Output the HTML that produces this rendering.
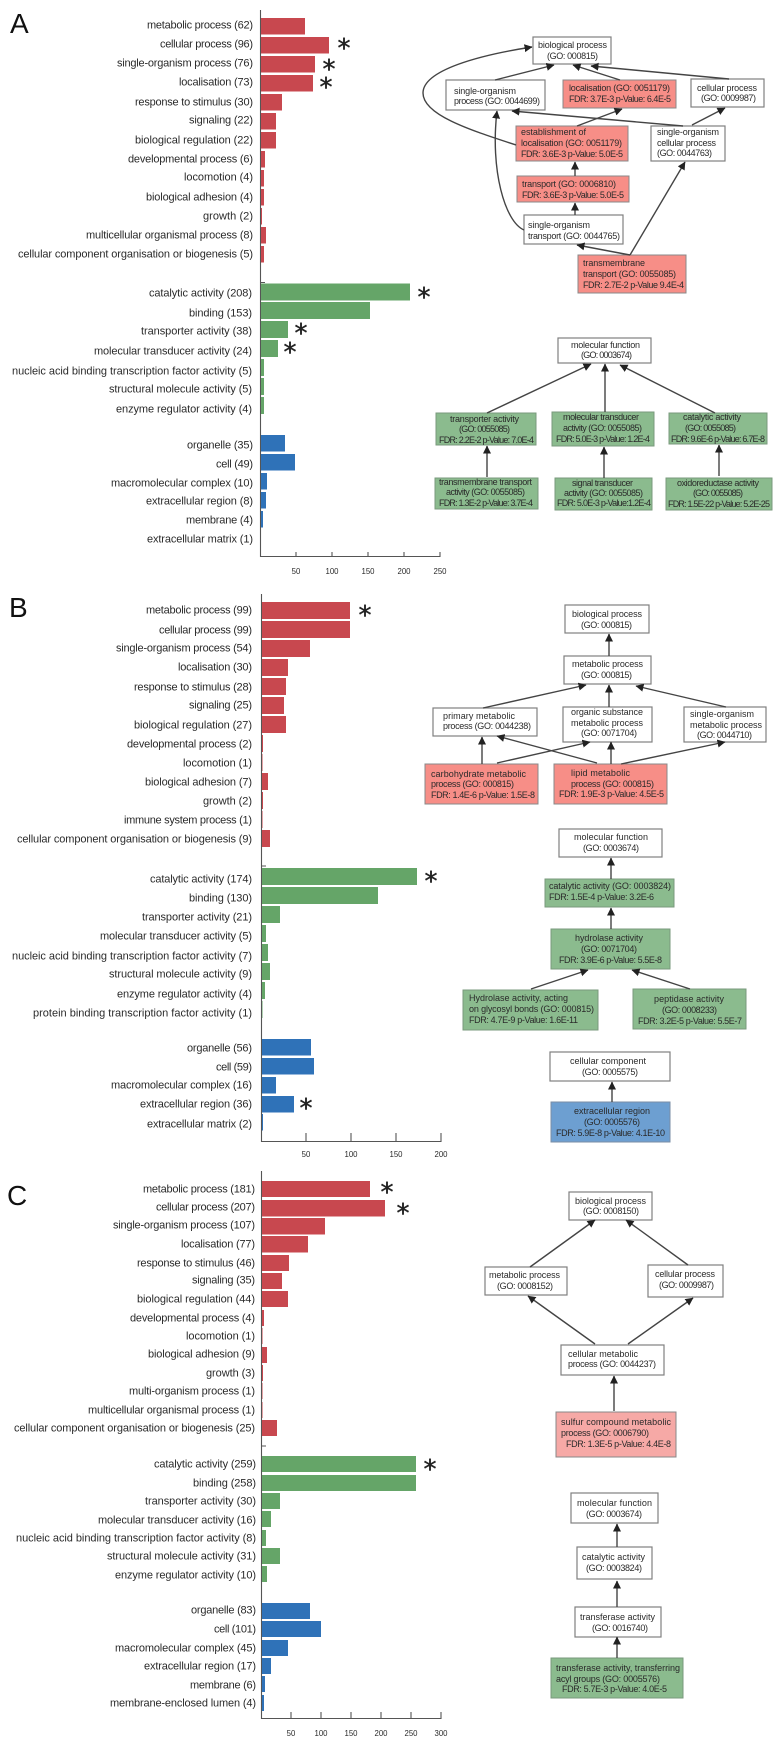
<!DOCTYPE html>
<html><head><meta charset="utf-8"><style>
html,body{margin:0;padding:0;background:#fff}
svg{display:block;filter:blur(.35px)}
text{font-family:"Liberation Sans",sans-serif;fill:#2a2a2a}
.l text{font-size:11px}
.n text{font-size:9px}
.t text{font-size:7.8px;text-anchor:middle}
.s text{font-family:"DejaVu Sans",sans-serif;font-size:26px;text-anchor:middle;fill:#222;stroke:#222;stroke-width:.4}
.b{font-size:28px;fill:#111}
.nw{fill:#fff;stroke:#808080;stroke-width:1.2}
.nr{fill:#f78e87;stroke:#888;stroke-width:1}
.ng{fill:#8bbb8e;stroke:#7a9a7c;stroke-width:1}
.nb{fill:#6d9fd1;stroke:#7a8ea5;stroke-width:1}
.np{fill:#f6a9a6;stroke:#888;stroke-width:1}
.e path{fill:none;stroke:#444;stroke-width:1.4;marker-end:url(#a)}
</style></head><body>
<svg width="778" height="1748" viewBox="0 0 778 1748" xmlns="http://www.w3.org/2000/svg">
<defs><marker id="a" markerUnits="userSpaceOnUse" markerWidth="9" markerHeight="9" refX="7.5" refY="4" orient="auto"><path d="M0 0L8 4L0 8z" fill="#222"/></marker></defs>
<rect width="778" height="1748" fill="#fff"/>

<text class="b" x="10" y="33">A</text>
<text class="b" x="9" y="617">B</text>
<text class="b" x="7" y="1205">C</text>

<!-- axes -->
<path d="M260.5 10V556.5H440V552M296 556V552M332 556V552M368 556V552M404 556V552M261 282.5h4M261.5 594V1141.5H441V1133M306 1141V1133M351 1141V1133M396 1141V1133M262 866h4M261.5 1171V1718.5H441V1712M291 1718V1712M321 1718V1712M351 1718V1712M381 1718V1712M411 1718V1712M262 1446h4" fill="none" stroke="#555" stroke-width="1.1"/>

<!-- red bars -->
<path fill="#c8484f" d="M261 18H305V34.5H261zM261 37H329V53.5H261zM261 56H315V72.5H261zM261 75H313V91.5H261zM261 94H282V110.5H261zM261 113H276V129.5H261zM261 132H276V148.5H261zM261 151H265V167.5H261zM261 170H264V186.5H261zM261 189H264V205.5H261zM261 208H262V224.5H261zM261 227H266V243.5H261zM261 246H264V262.5H261z
M262 602H350V619H262zM262 621H350V638H262zM262 640H310V657H262zM262 659H288V676H262zM262 678H286V695H262zM262 697H284V714H262zM262 716H286V733H262zM262 735H263V752H262zM262 754H262.5V771H262zM262 773H268V790H262zM262 792H263V809H262zM262 811H262.5V828H262zM262 830H270V847H262z
M262 1181H370V1197H262zM262 1200H385V1216.5H262zM262 1218H325V1234.5H262zM262 1236H308V1252.5H262zM262 1255H289V1271H262zM262 1273H282V1289H262zM262 1291H288V1307H262zM262 1310H264V1326H262zM262 1328H262.5V1344H262zM262 1347H267V1363H262zM262 1365H263V1381H262zM262 1383H262.5V1399H262zM262 1402H262.5V1418H262zM262 1420H277V1436H262z"/>
<!-- green bars -->
<path fill="#65a568" d="M261 283.5H410V300.5H261zM261 302H370V319H261zM261 321H288V338H261zM261 340H278V357H261zM261 359H264V376H261zM261 378H264V395H261zM261 397H264V414H261z
M262 868H417V885H262zM262 887H378V904H262zM262 906H280V923H262zM262 925H266V942H262zM262 944H268V961H262zM262 963H270V980H262zM262 982H265V999H262zM262 1001H262.5V1018H262z
M262 1456H416V1472H262zM262 1475H416V1491H262zM262 1493H280V1509H262zM262 1511H271V1527H262zM262 1530H266V1546H262zM262 1548H280V1564H262zM262 1566H267V1582H262z"/>
<!-- blue bars -->
<path fill="#2f72b8" d="M261 435H285V451.5H261zM261 454H295V470.5H261zM261 473H267V489.5H261zM261 492H266V508.5H261zM261 511H263V527.5H261z
M262 1039H311V1055.5H262zM262 1058H314V1074.5H262zM262 1077H276V1093.5H262zM262 1096H294V1112.5H262zM262 1114H263V1130.5H262z
M262 1603H310V1619H262zM262 1621H321V1637H262zM262 1640H288V1656H262zM262 1658H271V1674H262zM262 1676H265V1692H262zM262 1695H264V1711H262z"/>

<!-- labels -->
<g class="l">
<text x="147" y="28.5" textLength="106">metabolic process (62)</text>
<text x="160" y="47.5" textLength="93">cellular process (96)</text>
<text x="117" y="66.5" textLength="136">single-organism process (76)</text>
<text x="179" y="85.5" textLength="74">localisation (73)</text>
<text x="135" y="105.5" textLength="118">response to stimulus (30)</text>
<text x="189" y="123.5" textLength="64">signaling (22)</text>
<text x="135" y="143.5" textLength="118">biological regulation (22)</text>
<text x="128" y="162.5" textLength="125">developmental process (6)</text>
<text x="184" y="180.5" textLength="69">locomotion (4)</text>
<text x="146" y="200.5" textLength="107">biological adhesion (4)</text>
<text x="203" y="219.5" textLength="50">growth (2)</text>
<text x="86" y="238.5" textLength="167">multicellular organismal process (8)</text>
<text x="18" y="257.5" textLength="235">cellular component organisation or biogenesis (5)</text>
<text x="149" y="296.5" textLength="103">catalytic activity (208)</text>
<text x="189" y="316.5" textLength="63">binding (153)</text>
<text x="141" y="334.5" textLength="111">transporter activity (38)</text>
<text x="94" y="354.5" textLength="158">molecular transducer activity (24)</text>
<text x="12" y="374.5" textLength="240">nucleic acid binding transcription factor activity (5)</text>
<text x="109" y="392.5" textLength="143">structural molecule activity (5)</text>
<text x="116" y="412.5" textLength="136">enzyme regulator activity (4)</text>
<text x="187" y="448.5" textLength="66">organelle (35)</text>
<text x="216" y="467.5" textLength="37">cell (49)</text>
<text x="111" y="486.5" textLength="142">macromolecular complex (10)</text>
<text x="146" y="504.5" textLength="107">extracellular region (8)</text>
<text x="186" y="523.5" textLength="67">membrane (4)</text>
<text x="147" y="542.5" textLength="106">extracellular matrix (1)</text>

<text x="146" y="613.5" textLength="106">metabolic process (99)</text>
<text x="159" y="633.5" textLength="93">cellular process (99)</text>
<text x="116" y="651.5" textLength="136">single-organism process (54)</text>
<text x="178" y="670.5" textLength="74">localisation (30)</text>
<text x="134" y="690.5" textLength="118">response to stimulus (28)</text>
<text x="189" y="708.5" textLength="63">signaling (25)</text>
<text x="134" y="728.5" textLength="118">biological regulation (27)</text>
<text x="127" y="747.5" textLength="125">developmental process (2)</text>
<text x="183" y="766.5" textLength="69">locomotion (1)</text>
<text x="145" y="785.5" textLength="107">biological adhesion (7)</text>
<text x="203" y="804.5" textLength="49">growth (2)</text>
<text x="124" y="823.5" textLength="128">immune system process (1)</text>
<text x="17" y="842.5" textLength="235">cellular component organisation or biogenesis (9)</text>
<text x="150" y="882.5" textLength="102">catalytic activity (174)</text>
<text x="189" y="901.5" textLength="63">binding (130)</text>
<text x="142" y="920.5" textLength="110">transporter activity (21)</text>
<text x="100" y="939.5" textLength="152">molecular transducer activity (5)</text>
<text x="12" y="959.5" textLength="240">nucleic acid binding transcription factor activity (7)</text>
<text x="109" y="977.5" textLength="143">structural molecule activity (9)</text>
<text x="117" y="997.5" textLength="135">enzyme regulator activity (4)</text>
<text x="33" y="1016.5" textLength="219">protein binding transcription factor activity (1)</text>
<text x="187" y="1051.5" textLength="65">organelle (56)</text>
<text x="216" y="1070.5" textLength="36">cell (59)</text>
<text x="111" y="1088.5" textLength="141">macromolecular complex (16)</text>
<text x="140" y="1107.5" textLength="112">extracellular region (36)</text>
<text x="147" y="1127.5" textLength="105">extracellular matrix (2)</text>

<text x="143" y="1192.5" textLength="112">metabolic process (181)</text>
<text x="156" y="1210.5" textLength="99">cellular process (207)</text>
<text x="113" y="1228.5" textLength="142">single-organism process (107)</text>
<text x="181" y="1247.5" textLength="74">localisation (77)</text>
<text x="137" y="1266.5" textLength="118">response to stimulus (46)</text>
<text x="192" y="1283.5" textLength="63">signaling (35)</text>
<text x="137" y="1302.5" textLength="118">biological regulation (44)</text>
<text x="130" y="1321.5" textLength="125">developmental process (4)</text>
<text x="186" y="1339.5" textLength="69">locomotion (1)</text>
<text x="148" y="1357.5" textLength="107">biological adhesion (9)</text>
<text x="206" y="1376.5" textLength="49">growth (3)</text>
<text x="129" y="1394.5" textLength="126">multi-organism process (1)</text>
<text x="88" y="1413.5" textLength="167">multicellular organismal process (1)</text>
<text x="14" y="1431.5" textLength="241">cellular component organisation or biogenesis (25)</text>
<text x="154" y="1467.5" textLength="102">catalytic activity (259)</text>
<text x="193" y="1486.5" textLength="63">binding (258)</text>
<text x="145" y="1504.5" textLength="111">transporter activity (30)</text>
<text x="98" y="1523.5" textLength="158">molecular transducer activity (16)</text>
<text x="16" y="1541.5" textLength="240">nucleic acid binding transcription factor activity (8)</text>
<text x="107" y="1559.5" textLength="149">structural molecule activity (31)</text>
<text x="115" y="1578.5" textLength="141">enzyme regulator activity (10)</text>
<text x="191" y="1613.5" textLength="65">organelle (83)</text>
<text x="214" y="1632.5" textLength="42">cell (101)</text>
<text x="115" y="1651.5" textLength="141">macromolecular complex (45)</text>
<text x="144" y="1669.5" textLength="112">extracellular region (17)</text>
<text x="190" y="1688.5" textLength="66">membrane (6)</text>
<text x="110" y="1706.5" textLength="146">membrane-enclosed lumen (4)</text>
</g>

<!-- tick labels -->
<g class="t">
<text x="296" y="574">50</text><text x="332" y="574">100</text><text x="368" y="574">150</text><text x="404" y="574">200</text><text x="440" y="574">250</text>
<text x="306" y="1157">50</text><text x="351" y="1157">100</text><text x="396" y="1157">150</text><text x="441" y="1157">200</text>
<text x="291" y="1736">50</text><text x="321" y="1736">100</text><text x="351" y="1736">150</text><text x="381" y="1736">200</text><text x="411" y="1736">250</text><text x="441" y="1736">300</text>
</g>

<!-- asterisks -->
<g class="s">
<text x="344" y="57">*</text><text x="329" y="78">*</text><text x="326" y="96">*</text><text x="424" y="306">*</text><text x="301" y="342">*</text><text x="290" y="361">*</text>
<text x="365" y="624">*</text><text x="431" y="890">*</text><text x="306" y="1117">*</text>
<text x="387" y="1201">*</text><text x="403" y="1222">*</text><text x="430" y="1478">*</text>
</g>

<!-- node boxes -->
<rect class="nw" x="533" y="37" width="78" height="27"/>
<rect class="nw" x="446" y="80" width="99" height="30"/>
<rect class="nr" x="563" y="80" width="113" height="28"/>
<rect class="nw" x="691" y="79" width="73" height="28"/>
<rect class="nr" x="516" y="126" width="112" height="35"/>
<rect class="nw" x="651" y="126" width="74" height="35"/>
<rect class="nr" x="517" y="176" width="112" height="26"/>
<rect class="nw" x="524" y="215" width="99" height="29"/>
<rect class="nr" x="578" y="255" width="108" height="38"/>

<rect class="nw" x="558" y="338" width="93" height="25"/>
<rect class="ng" x="436" y="413" width="100" height="32"/>
<rect class="ng" x="552" y="412" width="102" height="34"/>
<rect class="ng" x="669" y="413" width="98" height="31"/>
<rect class="ng" x="435" y="478" width="103" height="31"/>
<rect class="ng" x="555" y="478" width="97" height="32"/>
<rect class="ng" x="666" y="478" width="106" height="32"/>

<rect class="nw" x="565" y="605" width="84" height="28"/>
<rect class="nw" x="564" y="656" width="87" height="28"/>
<rect class="nw" x="433" y="708" width="104" height="28"/>
<rect class="nw" x="563" y="707" width="89" height="35"/>
<rect class="nw" x="684" y="707" width="82" height="35"/>
<rect class="nr" x="425" y="764" width="113" height="40"/>
<rect class="nr" x="554" y="764" width="113" height="40"/>
<rect class="nw" x="559" y="829" width="103" height="28"/>
<rect class="ng" x="545" y="879" width="129" height="28"/>
<rect class="ng" x="551" y="929" width="119" height="40"/>
<rect class="ng" x="463" y="990" width="135" height="40"/>
<rect class="ng" x="633" y="989" width="113" height="40"/>
<rect class="nw" x="550" y="1052" width="120" height="29"/>
<rect class="nb" x="551" y="1102" width="119" height="40"/>

<rect class="nw" x="569" y="1192" width="83" height="28"/>
<rect class="nw" x="485" y="1267" width="82" height="28"/>
<rect class="nw" x="648" y="1265" width="75" height="32"/>
<rect class="nw" x="561" y="1345" width="103" height="30"/>
<rect class="np" x="556" y="1412" width="120" height="45"/>
<rect class="nw" x="571" y="1493" width="87" height="30"/>
<rect class="nw" x="577" y="1547" width="75" height="32"/>
<rect class="nw" x="575" y="1607" width="86" height="30"/>
<rect class="ng" x="551" y="1658" width="132" height="40"/>

<!-- edges -->
<g class="e">
<path d="M495 80L554 65"/>
<path d="M620 80L573 65"/>
<path d="M729 79L591 66"/>
<path d="M516 145C470 130 423 115 423 93C423 70 480 55 532 47"/>
<path d="M577 126L622 109"/>
<path d="M683 126L512 111"/>
<path d="M524 230C505 222 490 170 497 111"/>
<path d="M692 125L725 108"/>
<path d="M575 176V162"/>
<path d="M575 215V203"/>
<path d="M630 255L577 245"/>
<path d="M630 255L685 162"/>
<path d="M487 413L591 364"/>
<path d="M605 412V364"/>
<path d="M715 413L620 365"/>
<path d="M487 477V446"/>
<path d="M604 478V447"/>
<path d="M719 476V445"/>
<path d="M609 656V634"/>
<path d="M483 708L586 685"/>
<path d="M609 707V685"/>
<path d="M726 707L636 686"/>
<path d="M482 764V737"/>
<path d="M497 763L590 742"/>
<path d="M597 763L497 736"/>
<path d="M611 764V742"/>
<path d="M621 764L725 742"/>
<path d="M611 879V858"/>
<path d="M611 929V908"/>
<path d="M531 989L588 970"/>
<path d="M690 989L632 970"/>
<path d="M612 1102V1082"/>
<path d="M530 1267L595 1220"/>
<path d="M688 1265L626 1220"/>
<path d="M595 1344L528 1296"/>
<path d="M628 1344L693 1298"/>
<path d="M614 1411V1376"/>
<path d="M617 1547V1524"/>
<path d="M617 1607V1581"/>
<path d="M617 1658V1637"/>
</g>

<!-- node text -->
<g class="n">
<text x="538" y="48" textLength="69">biological process</text>
<text x="547" y="59" textLength="51">(GO: 000815)</text>
<text x="454" y="94" textLength="62">single-organism</text>
<text x="454" y="104" textLength="86">process (GO: 0044699)</text>
<text x="569" y="91" textLength="101">localisation (GO: 0051179)</text>
<text x="569" y="102" textLength="102">FDR: 3.7E-3 p-Value: 6.4E-5</text>
<text x="697" y="91" textLength="60">cellular process</text>
<text x="701" y="101" textLength="55">(GO: 0009987)</text>
<text x="521" y="135" textLength="65">establishment of</text>
<text x="521" y="146" textLength="101">localisation (GO: 0051179)</text>
<text x="521" y="157" textLength="102">FDR: 3.6E-3 p-Value: 5.0E-5</text>
<text x="657" y="135" textLength="62">single-organism</text>
<text x="657" y="146" textLength="59">cellular process</text>
<text x="657" y="156" textLength="55">(GO: 0044763)</text>
<text x="522" y="187" textLength="94">transport (GO: 0006810)</text>
<text x="522" y="198" textLength="102">FDR: 3.6E-3 p-Value: 5.0E-5</text>
<text x="528" y="228" textLength="62">single-organism</text>
<text x="528" y="239" textLength="92">transport (GO: 0044765)</text>
<text x="583" y="266" textLength="62">transmembrane</text>
<text x="583" y="277" textLength="93">transport (GO: 0055085)</text>
<text x="583" y="288" textLength="101">FDR: 2.7E-2 p-Value 9.4E-4</text>

<text x="571" y="348" textLength="69">molecular function</text>
<text x="581" y="358" textLength="51">(GO: 0003674)</text>
<text x="450" y="422" textLength="69">transporter activity</text>
<text x="459" y="432" textLength="51">(GO: 0055085)</text>
<text x="439" y="443" textLength="95">FDR: 2.2E-2 p-Value: 7.0E-4</text>
<text x="563" y="420" textLength="76">molecular transducer</text>
<text x="563" y="431" textLength="79">activity (GO: 0055085)</text>
<text x="556" y="442" textLength="94">FDR: 5.0E-3 p-Value: 1.2E-4</text>
<text x="683" y="420" textLength="58">catalytic activity</text>
<text x="685" y="431" textLength="51">(GO: 0055085)</text>
<text x="671" y="442" textLength="94">FDR: 9.6E-6 p-Value: 6.7E-8</text>
<text x="439" y="485" textLength="93">transmembrane transport</text>
<text x="446" y="495" textLength="79">activity (GO: 0055085)</text>
<text x="439" y="506" textLength="94">FDR: 1.3E-2 p-Value: 3.7E-4</text>
<text x="572" y="486" textLength="61">signal transducer</text>
<text x="564" y="496" textLength="79">activity (GO: 0055085)</text>
<text x="557" y="506" textLength="94">FDR: 5.0E-3 p-Value:1.2E-4</text>
<text x="677" y="486" textLength="82">oxidoreductase activity</text>
<text x="693" y="496" textLength="50">(GO: 0055085)</text>
<text x="668" y="507" textLength="102">FDR: 1.5E-22 p-Value: 5.2E-25</text>

<text x="572" y="617" textLength="70">biological process</text>
<text x="581" y="628" textLength="51">(GO: 000815)</text>
<text x="572" y="667" textLength="71">metabolic process</text>
<text x="581" y="678" textLength="51">(GO: 000815)</text>
<text x="443" y="719" textLength="72">primary metabolic</text>
<text x="443" y="729" textLength="88">process (GO: 0044238)</text>
<text x="571" y="715" textLength="72">organic substance</text>
<text x="571" y="726" textLength="72">metabolic process</text>
<text x="581" y="736" textLength="56">(GO: 0071704)</text>
<text x="690" y="717" textLength="64">single-organism</text>
<text x="690" y="728" textLength="72">metabolic process</text>
<text x="697" y="738" textLength="55">(GO: 0044710)</text>
<text x="431" y="777" textLength="95">carbohydrate metabolic</text>
<text x="431" y="787" textLength="83">process (GO: 000815)</text>
<text x="431" y="798" textLength="104">FDR: 1.4E-6 p-Value: 1.5E-8</text>
<text x="571" y="776" textLength="59">lipid metabolic</text>
<text x="571" y="787" textLength="83">process (GO: 000815)</text>
<text x="559" y="797" textLength="105">FDR: 1.9E-3 p-Value: 4.5E-5</text>
<text x="574" y="840" textLength="74">molecular function</text>
<text x="583" y="851" textLength="56">(GO: 0003674)</text>
<text x="549" y="889" textLength="122">catalytic activity (GO: 0003824)</text>
<text x="549" y="900" textLength="105">FDR: 1.5E-4 p-Value: 3.2E-6</text>
<text x="575" y="941" textLength="68">hydrolase activity</text>
<text x="581" y="952" textLength="56">(GO: 0071704)</text>
<text x="559" y="963" textLength="103">FDR: 3.9E-6 p-Value: 5.5E-8</text>
<text x="469" y="1001" textLength="99">Hydrolase activity, acting</text>
<text x="469" y="1012" textLength="125">on glycosyl bonds (GO: 000815)</text>
<text x="469" y="1023" textLength="109">FDR: 4.7E-9 p-Value: 1.6E-11</text>
<text x="654" y="1002" textLength="70">peptidase activity</text>
<text x="662" y="1013" textLength="55">(GO: 0008233)</text>
<text x="638" y="1024" textLength="104">FDR: 3.2E-5 p-Value: 5.5E-7</text>
<text x="570" y="1064" textLength="76">cellular component</text>
<text x="582" y="1075" textLength="56">(GO: 0005575)</text>
<text x="574" y="1114" textLength="76">extracellular region</text>
<text x="584" y="1125" textLength="56">(GO: 0005576)</text>
<text x="556" y="1136" textLength="109">FDR: 5.9E-8 p-Value: 4.1E-10</text>

<text x="575" y="1204" textLength="71">biological process</text>
<text x="583" y="1214" textLength="56">(GO: 0008150)</text>
<text x="489" y="1278" textLength="71">metabolic process</text>
<text x="497" y="1289" textLength="56">(GO: 0008152)</text>
<text x="655" y="1277" textLength="60">cellular process</text>
<text x="659" y="1288" textLength="55">(GO: 0009987)</text>
<text x="568" y="1357" textLength="70">cellular metabolic</text>
<text x="568" y="1367" textLength="88">process (GO: 0044237)</text>
<text x="561" y="1425" textLength="110">sulfur compound metabolic</text>
<text x="561" y="1436" textLength="88">process (GO: 0006790)</text>
<text x="566" y="1447" textLength="105">FDR: 1.3E-5 p-Value: 4.4E-8</text>
<text x="577" y="1506" textLength="75">molecular function</text>
<text x="586" y="1517" textLength="56">(GO: 0003674)</text>
<text x="582" y="1560" textLength="63">catalytic activity</text>
<text x="586" y="1571" textLength="56">(GO: 0003824)</text>
<text x="580" y="1620" textLength="75">transferase activity</text>
<text x="592" y="1631" textLength="56">(GO: 0016740)</text>
<text x="556" y="1671" textLength="124">transferase activity, transferring</text>
<text x="556" y="1682" textLength="104">acyl groups (GO: 0005576)</text>
<text x="562" y="1692" textLength="105">FDR: 5.7E-3 p-Value: 4.0E-5</text>
</g>
</svg>
</body></html>
